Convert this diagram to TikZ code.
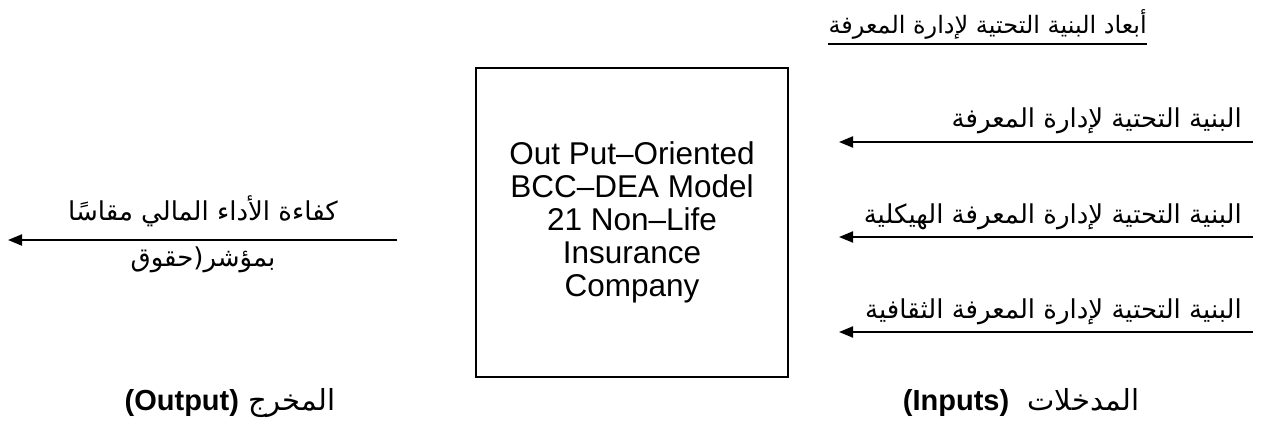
\documentclass[tikz,border=0pt]{standalone}
\usepackage{fontspec}
\setmainfont{Liberation Sans}
\newfontfamily\arabicfont[Script=Arabic]{DejaVu Sans}
\TeXXeTstate=1
\usetikzlibrary{arrows.meta,positioning}

\begin{document}
\begin{tikzpicture}[x=1pt,y=-1pt]
                \tikzset{ModelBox/.style={%
                    shape=rectangle,%
                    draw=black,%
                    line width=2pt,%
                    minimum width=312pt,%
                    minimum height=309pt,%
                    align=center,%
                    font=\fontsize{31.5}{33}\selectfont,%
                }}
                \tikzset{Arrow/.style={%
                    line width=2pt,%
                    -{Triangle[length=14pt,width=11pt]},%
                }}
                \tikzset{ArLabel/.style={%
                    inner sep=0pt,%
                    font=\fontsize{26}{30}\selectfont\arabicfont,%
                }}
                \tikzset{Caption/.style={%
                    inner sep=0pt,%
                    font=\fontsize{29}{33}\selectfont\arabicfont,%
                }}
                \useasboundingbox (0,0) rectangle (1285,437);

                \node[ModelBox] (model) at (632,222.5)
                    {Out Put--Oriented\\BCC--DEA Model\\21 Non--Life\\Insurance\\Company};

                % inputs
                \coordinate (in1s) at (1253,142);
                \coordinate (in1e) at (839,142);
                \coordinate[below of=in1s, node distance=95pt] (in2s);
                \coordinate[below of=in1e, node distance=95pt] (in2e);
                \coordinate[below of=in2s, node distance=95pt] (in3s);
                \coordinate[below of=in2e, node distance=95pt] (in3e);

                \draw[Arrow] (in1s) -- (in1e);
                \draw[Arrow] (in2s) -- (in2e);
                \draw[Arrow] (in3s) -- (in3e);

                \node[ArLabel, anchor=base east] (lab1) at (1242,127)
                    {\beginR البنية التحتية لإدارة المعرفة\endR};
                \node[ArLabel, anchor=base east] (lab2) at (1242,223)
                    {\beginR البنية التحتية لإدارة المعرفة الهيكلية\endR};
                \node[ArLabel, anchor=base east] (lab3) at (1242,318)
                    {\beginR البنية التحتية لإدارة المعرفة الثقافية\endR};

                \node[ArLabel, anchor=base east, font=\fontsize{24}{28}\selectfont\arabicfont] (title) at (1147,33)
                    {\beginR أبعاد البنية التحتية لإدارة المعرفة\endR};
                \draw[line width=2pt] ([yshift=-11pt]title.base west) -- ([yshift=-11pt]title.base east);

                % output
                \coordinate (outs) at (397,240);
                \coordinate (oute) at (8,240);
                \draw[Arrow] (outs) -- (oute);
                \node[ArLabel, anchor=base] (outlab1) at (203,220)
                    {\beginR كفاءة الأداء المالي مقاسًا\endR};
                \node[ArLabel, anchor=base] (outlab2) at (203,266)
                    {\beginR بمؤشر(حقوق\endR};

                % captions
                \node[Caption, anchor=base] (outcap) at (230,410)
                    {\beginR المخرج \beginL\textbf{\fontspec{Liberation Sans}(Output)}\endL\endR};
                \node[Caption, anchor=base] (incap) at (1021,410)
                    {\beginR المدخلات\ \ \beginL\textbf{\fontspec{Liberation Sans}(Inputs)}\endL\endR};
\end{tikzpicture}
\end{document}
